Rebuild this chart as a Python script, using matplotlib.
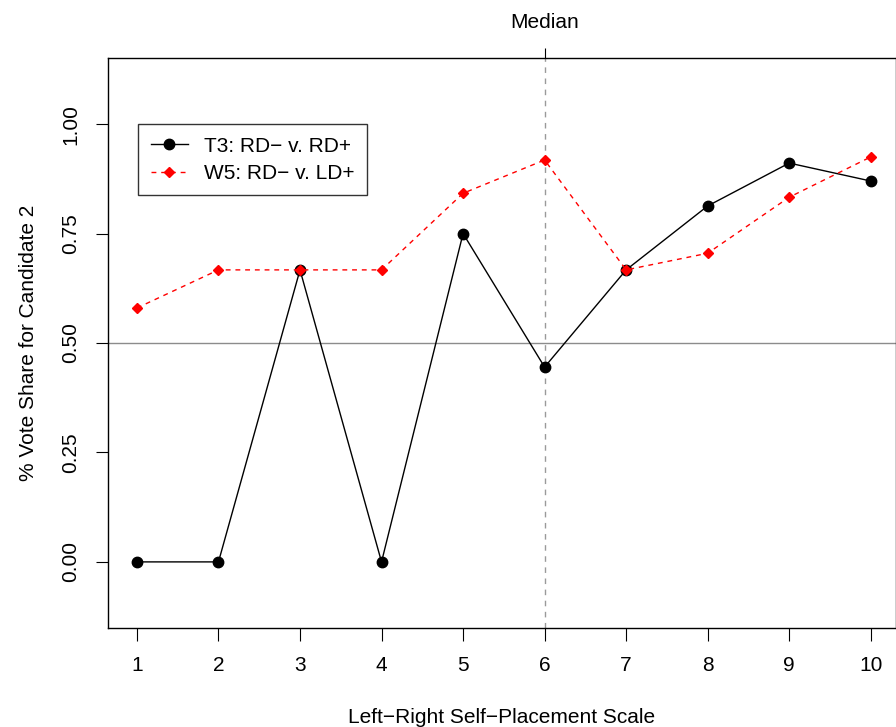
import numpy as np
import matplotlib
matplotlib.use("Agg")
import matplotlib.pyplot as plt

plt.rcParams['font.family'] = ['Liberation Sans', 'DejaVu Sans']

# data
scale = [1, 2, 3, 4, 5, 6, 7, 8, 9, 10]
t3 = [0.0, 0.0, 0.667, 0.0, 0.75, 0.445, 0.667, 0.813, 0.911, 0.870]
w5 = [0.58, 0.667, 0.667, 0.667, 0.842, 0.918, 0.667, 0.705, 0.833, 0.925]
yticks = [0.0, 0.25, 0.5, 0.75, 1.0]
ylabels = ['0.00', '0.25', '0.50', '0.75', '1.00']
median = 6

FS = 15

fig = plt.figure(figsize=(8.96, 7.27), dpi=100)
ax = fig.add_axes([108 / 896, 1 - 628 / 727, 788 / 896, 570 / 727])

ax.axhline(0.5, color='#8c8c8c', lw=1, zorder=1)
ax.axvline(median, color='#9a9a9a', lw=1, ls=(0, (4, 4)), zorder=1)

ax.plot(scale, t3, '-', color='black', lw=1.0, marker='o', ms=7.5,
        label='T3: RD\u2212 v. RD+', zorder=3)
ax.plot(scale, w5, '--', color='red', lw=1.0, marker='D', ms=5.2,
        dashes=(3.5, 3.5), label='W5: RD\u2212 v. LD+', zorder=4)

ax.set_xlim(0.645, 10.31)
ax.set_ylim(-0.151, 1.151)
ax.set_xticks(scale)
ax.set_yticks(yticks)
ax.set_yticklabels(ylabels, rotation=90, va='center')
ax.tick_params(direction='out', length=9, labelsize=FS, pad=11)
ax.tick_params(axis='y', pad=11)

sec = ax.secondary_xaxis('top')
sec.set_xticks([median])
sec.set_xticklabels(['Median'])
sec.tick_params(direction='out', length=7.5, labelsize=FS, pad=11)
sec.spines['top'].set_visible(False)

for s in ax.spines.values():
    s.set_linewidth(1)

ax.set_xlabel('Left\u2212Right Self\u2212Placement Scale', fontsize=FS, labelpad=24)
ax.set_ylabel('% Vote Share for Candidate 2', fontsize=FS, labelpad=17)

leg = ax.legend(loc='upper left', bbox_to_anchor=(30 / 788, (628 - 124) / 570),
                fontsize=FS, frameon=True, fancybox=False, edgecolor='black',
                borderpad=0.6, handlelength=1.8, handletextpad=0.75,
                labelspacing=0.4, borderaxespad=0)
leg.get_frame().set_linewidth(1)

fig.savefig('out.png', dpi=100)
